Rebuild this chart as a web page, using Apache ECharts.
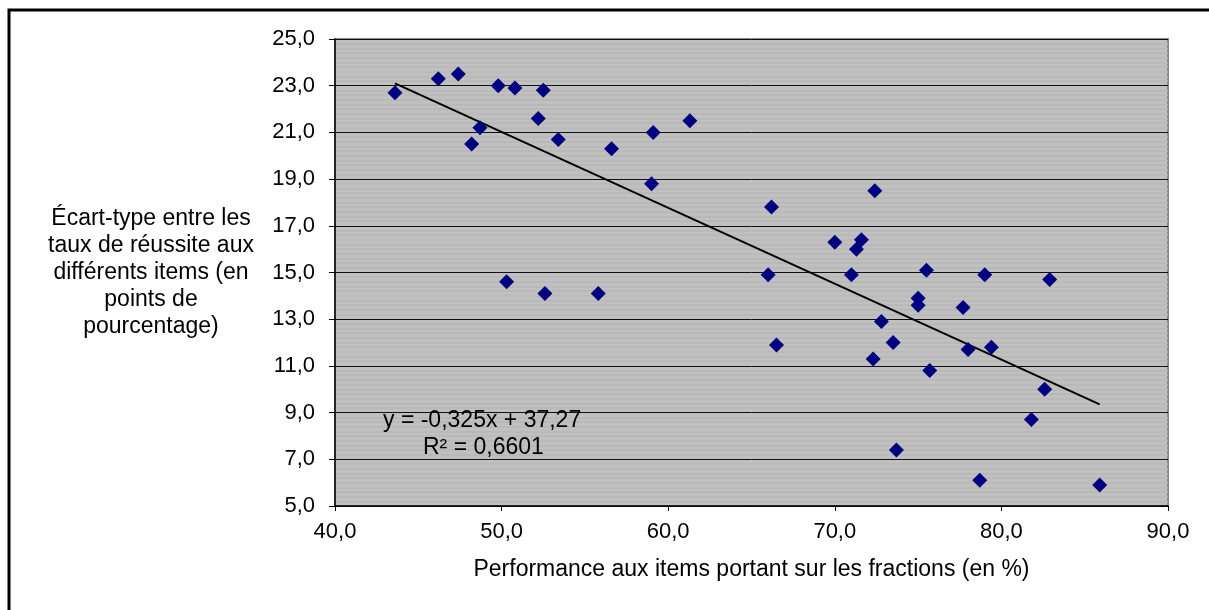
<!DOCTYPE html>
<html>
<head>
<meta charset="utf-8">
<script src="https://cdn.jsdelivr.net/npm/echarts@6/dist/echarts.min.js"></script>
<style>
  html, body { margin: 0; padding: 0; background: #fff; }
  #chart { width: 1209px; height: 610px; }
</style>
</head>
<body>
<div id="chart"></div>
<script>
// performance (%) and standard deviation
var perf = [43.6, 46.2, 47.4, 49.8, 50.8, 52.5, 48.7, 48.2, 52.2, 53.4, 56.6, 59.1, 61.3, 59.0,
            50.3, 52.6, 55.8, 72.4, 66.2, 70.0, 71.6, 71.3, 66.0, 71.0, 75.5, 79.0, 82.9, 75.0,
            75.0, 77.7, 72.8, 66.5, 73.5, 78.0, 79.4, 72.3, 75.7, 82.6, 81.8, 73.7, 78.7, 85.9];
var ecart = [22.7, 23.3, 23.5, 23.0, 22.9, 22.8, 21.2, 20.5, 21.6, 20.7, 20.3, 21.0, 21.5, 18.8,
             14.6, 14.1, 14.1, 18.5, 17.8, 16.3, 16.4, 16.0, 14.9, 14.9, 15.1, 14.9, 14.7, 13.9,
             13.6, 13.5, 12.9, 11.9, 12.0, 11.7, 11.8, 11.3, 10.8, 10.0, 8.7, 7.4, 6.1, 5.9];
var slope = -0.325;
var intercept = 37.27;
var r2 = '0,6601';

var points = perf.map(function(x, i){ return [x, ecart[i]]; });
var xMin = Math.min.apply(null, perf);
var xMax = Math.max.apply(null, perf);
var trend = [[xMin, slope * xMin + intercept], [xMax, slope * xMax + intercept]];

function fr(v){ return v.toFixed(1).replace('.', ','); }

var font = 'Liberation Sans, Arial, sans-serif';
var chart = echarts.init(document.getElementById('chart'));
var option = {
    animation: false,
    backgroundColor: '#fff',
    grid: {
        left: 335, right: 41, top: 39, bottom: 104,
        show: true, backgroundColor: '#c0c0c0', borderColor: '#8a8a8a', borderWidth: 2
    },
    xAxis: {
        type: 'value', min: 40, max: 90, interval: 10,
        axisLine: { onZero: false, lineStyle: { color: '#000', width: 1.5 } },
        axisTick: { show: true, length: 5, lineStyle: { color: '#000' } },
        splitLine: { show: false },
        axisLabel: { color: '#000', fontFamily: font, fontSize: 22, margin: 15, formatter: fr },
        name: 'Performance aux items portant sur les fractions (en %)',
        nameLocation: 'middle', nameGap: 52,
        nameTextStyle: { color: '#000', fontFamily: font, fontSize: 23 }
    },
    yAxis: {
        type: 'value', min: 5, max: 25, interval: 2,
        axisLine: { onZero: false, lineStyle: { color: '#000', width: 1.5 } },
        axisTick: { show: true, length: 6, lineStyle: { color: '#000' } },
        splitLine: { show: true, lineStyle: { color: '#111', width: 1 } },
        minorTick: { show: false, splitNumber: 10 },
        minorSplitLine: { show: true, lineStyle: { color: '#b6b6b6', width: 1.5 } },
        axisLabel: { color: '#000', fontFamily: font, fontSize: 22, margin: 20, formatter: fr },
        name: 'Écart-type entre les\ntaux de réussite aux\ndifférents items (en\npoints de\npourcentage)',
        nameLocation: 'middle', nameGap: 184, nameRotate: 0,
        nameTextStyle: { color: '#000', fontFamily: font, fontSize: 23, lineHeight: 27, align: 'center' }
    },
    series: [
        {
            type: 'scatter', data: points, symbol: 'diamond', symbolSize: 15,
            itemStyle: { color: '#000080', opacity: 1 }, z: 3
        },
        {
            type: 'line', data: trend, symbol: 'none', silent: true,
            lineStyle: { color: '#000', width: 2 }, z: 2
        }
    ],
    graphic: [
        { type: 'rect', shape: { x: 9, y: 10, width: 1400, height: 800 },
          style: { fill: 'none', stroke: '#000', lineWidth: 3 } },
        { type: 'text', left: 383, top: 409, z: 10,
          style: { text: 'y = -0,325x + 37,27', font: '23px ' + font, fill: '#000' } },
        { type: 'text', left: 423, top: 436, z: 10,
          style: { text: 'R² = ' + r2, font: '23px ' + font, fill: '#000' } }
    ]
};
chart.setOption(option);
</script>
</body>
</html>
